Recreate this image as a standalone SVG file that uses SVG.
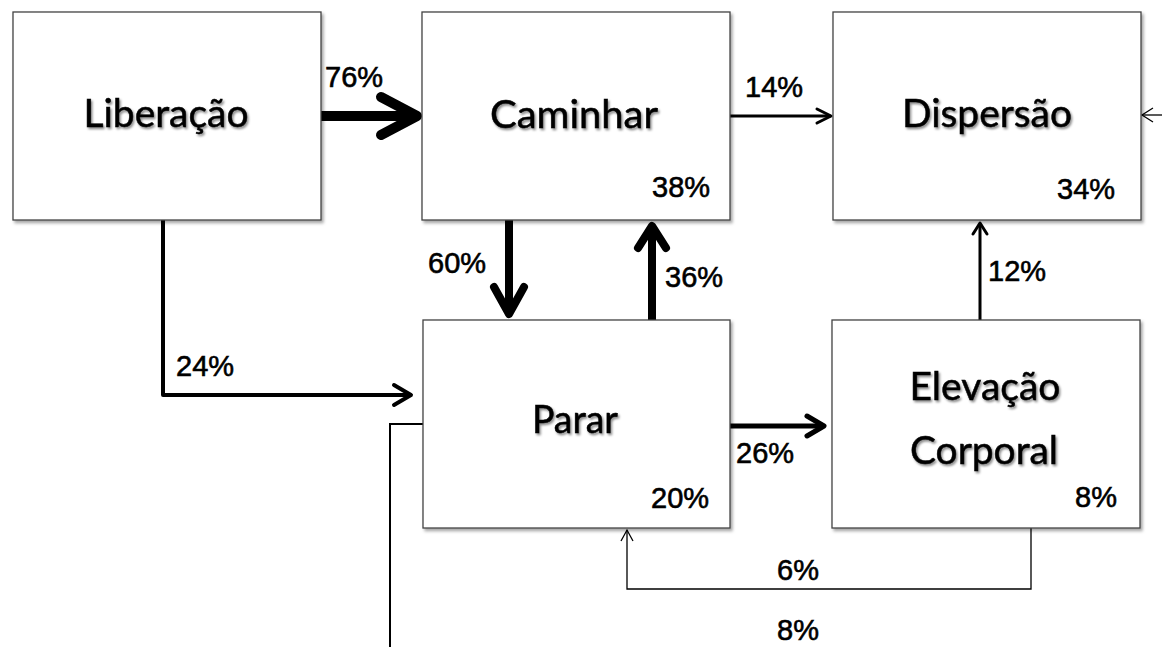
<svg xmlns="http://www.w3.org/2000/svg" width="1162" height="647" viewBox="0 0 1162 647">
<defs>
<filter id="boxsh" x="-5%" y="-5%" width="112%" height="112%"><feDropShadow dx="2" dy="2.5" stdDeviation="1.5" flood-color="#000" flood-opacity="0.35"/></filter>
<filter id="txtsh" x="-10%" y="-20%" width="125%" height="150%"><feDropShadow dx="1.5" dy="2" stdDeviation="1.2" flood-color="#000" flood-opacity="0.45"/></filter>
</defs>
<style>
.box{fill:#fff;stroke:#444;stroke-width:1.3}
.name{font-family:Lato,"Open Sans",sans-serif;font-size:39px;fill:#000;stroke:#000;stroke-width:0.5;text-anchor:middle}
.pct{font-family:"Liberation Sans",Arial,sans-serif;font-size:29px;fill:#000;stroke:#000;stroke-width:0.6}
.c{fill:none;stroke:#000;stroke-linecap:round;stroke-linejoin:round}
.c10{stroke-width:10}.c8{stroke-width:8}.c5{stroke-width:5}.c4{stroke-width:4}.c3{stroke-width:3}.c2{stroke-width:2;stroke-linecap:butt;stroke-linejoin:miter}.c1{stroke-width:1.3;stroke-linecap:butt;stroke-linejoin:miter}
</style>
<rect width="1162" height="647" fill="#fff"/>
<g id="connectors">
<line class="c c10" x1="321" y1="116" x2="412" y2="116"/>
<polyline class="c c10" points="381,97 417,116 381,135"/>
<line class="c c3" x1="730" y1="116" x2="830" y2="116"/>
<polyline class="c c3" points="817,109 831,116 817,123"/>
<line class="c c1" x1="1162" y1="115" x2="1142" y2="115"/>
<polyline class="c c1" points="1153,108 1142,115 1153,122"/>
<line class="c c8" x1="509" y1="220" x2="509" y2="310"/>
<polyline class="c c8" points="494,287 509,314 524,287"/>
<line class="c c8" x1="652" y1="320" x2="652" y2="232"/>
<polyline class="c c8" points="638,248 652,226 666,248"/>
<polyline class="c c4" points="163,220 163,395 409,395"/>
<polyline class="c c4" points="394,385 411,395 394,405"/>
<line class="c c5" x1="730" y1="426" x2="820" y2="426"/>
<polyline class="c c5" points="807,416 824,426 807,436"/>
<line class="c c3" x1="980" y1="320" x2="980" y2="224"/>
<polyline class="c c3" points="973,234 980,223 987,234"/>
<polyline class="c c1" points="1031,528 1031,589 627,589 627,530"/>
<polyline class="c c1" points="621,541 627,530 633,541"/>
<polyline class="c c2" points="423,424 390,424 390,647"/>
</g>
<g id="liberacao">
<rect class="box" x="13" y="12" width="308" height="208" filter="url(#boxsh)"/>
<text class="name" x="166" y="127" textLength="165" lengthAdjust="spacingAndGlyphs" filter="url(#txtsh)">Liberação</text>
</g>
<g id="caminhar">
<rect class="box" x="422" y="12" width="308" height="208" filter="url(#boxsh)"/>
<text class="name" x="574" y="128" textLength="168" lengthAdjust="spacingAndGlyphs" filter="url(#txtsh)">Caminhar</text>
<text class="pct" x="652" y="197">38%</text>
</g>
<g id="dispersao">
<rect class="box" x="833" y="12" width="308" height="208" filter="url(#boxsh)"/>
<text class="name" x="987" y="127" textLength="170" lengthAdjust="spacingAndGlyphs" filter="url(#txtsh)">Dispersão</text>
<text class="pct" x="1057" y="199">34%</text>
</g>
<g id="parar">
<rect class="box" x="423" y="320" width="307" height="208" filter="url(#boxsh)"/>
<text class="name" x="575" y="433" textLength="86" lengthAdjust="spacingAndGlyphs" filter="url(#txtsh)">Parar</text>
<text class="pct" x="651" y="508">20%</text>
</g>
<g id="elevacao">
<rect class="box" x="832" y="320" width="308" height="208" filter="url(#boxsh)"/>
<text class="name" x="985" y="400" textLength="151" lengthAdjust="spacingAndGlyphs" filter="url(#txtsh)">Elevação</text>
<text class="name" x="984" y="464" textLength="148" lengthAdjust="spacingAndGlyphs" filter="url(#txtsh)">Corporal</text>
<text class="pct" x="1075" y="507">8%</text>
</g>
<g id="edge-labels">
<text class="pct" x="325" y="87">76%</text>
<text class="pct" x="745" y="97">14%</text>
<text class="pct" x="428" y="273">60%</text>
<text class="pct" x="665" y="287">36%</text>
<text class="pct" x="176" y="376">24%</text>
<text class="pct" x="736" y="463">26%</text>
<text class="pct" x="988" y="281">12%</text>
<text class="pct" x="777" y="580">6%</text>
<text class="pct" x="777" y="640">8%</text>
</g>
</svg>
